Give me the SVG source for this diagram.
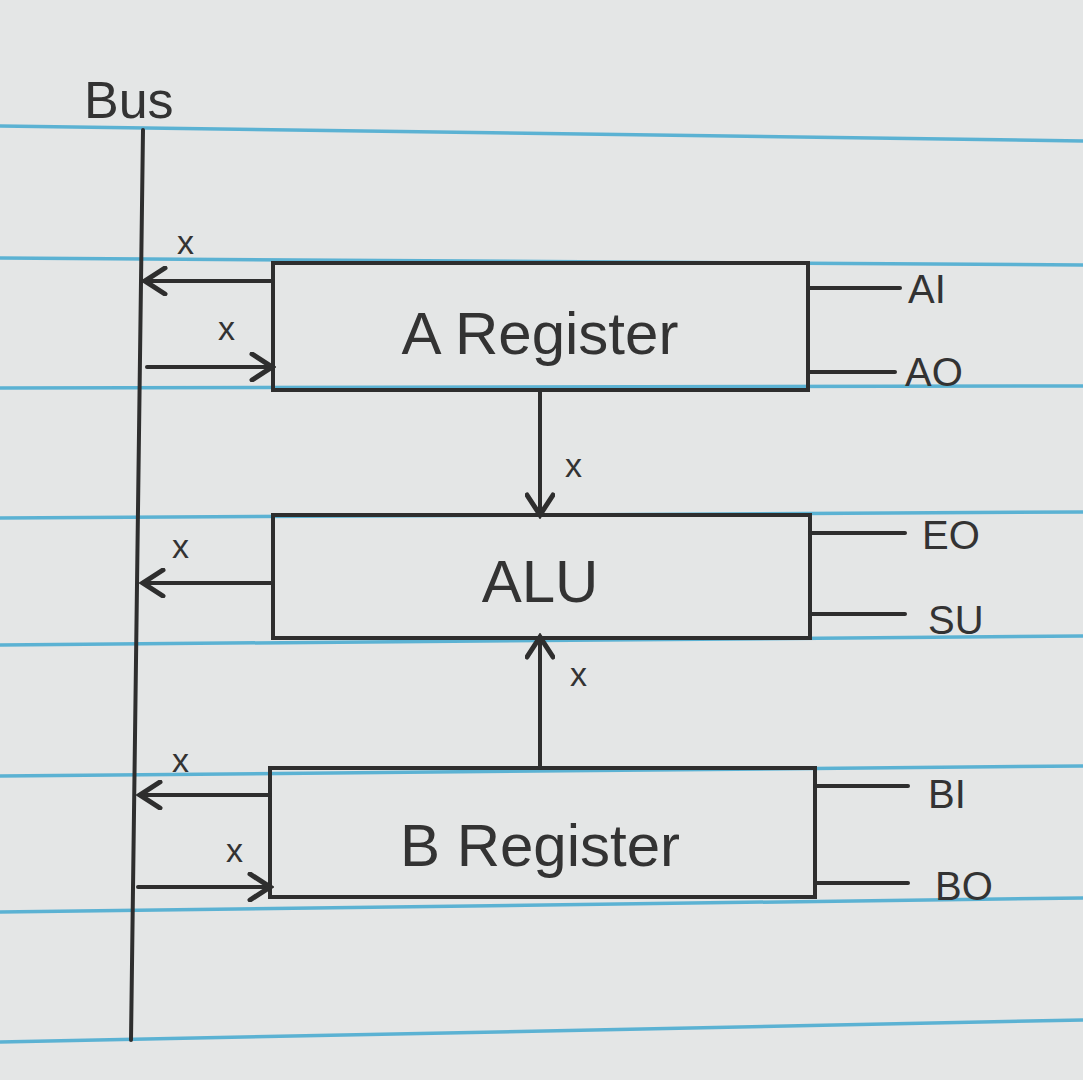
<svg xmlns="http://www.w3.org/2000/svg" width="1083" height="1080" viewBox="0 0 1083 1080">
<style>
.rule{stroke:#3aa6cf;stroke-width:3.5;opacity:0.8}
.ink{stroke:#2e2e2e;stroke-width:4;fill:none;stroke-linecap:round}
.box{stroke:#2e2e2e;stroke-width:4;fill:none}
.lbl{font-family:"Liberation Sans",Arial,sans-serif;fill:#333}
.big{font-size:60px}
.sig{font-size:40px}
.x{font-size:34px}
</style>
<defs>
<marker id="ah" markerWidth="30" markerHeight="30" refX="26" refY="15" orient="auto" markerUnits="userSpaceOnUse">
<path d="M6,2 L26,15 L6,28" fill="none" stroke="#2e2e2e" stroke-width="5" stroke-linecap="round"/>
</marker>
</defs>
<rect width="1083" height="1080" fill="#e4e6e6"/>
<g id="paper-lines">
<line class="rule" x1="0" y1="126" x2="1083" y2="141"/>
<line class="rule" x1="0" y1="258" x2="1083" y2="265"/>
<line class="rule" x1="0" y1="388" x2="1083" y2="386"/>
<line class="rule" x1="0" y1="518" x2="1083" y2="512"/>
<line class="rule" x1="0" y1="645" x2="1083" y2="636"/>
<line class="rule" x1="0" y1="776" x2="1083" y2="766"/>
<line class="rule" x1="0" y1="912" x2="1083" y2="898"/>
<line class="rule" x1="0" y1="1042" x2="1083" y2="1020"/>
</g>
<g id="bus">
<line class="ink" x1="143" y1="130" x2="131" y2="1040"/>
<text class="lbl" x="84" y="118" font-size="52">Bus</text>
</g>
<g id="a-register">
<rect class="box" x="273" y="263" width="535" height="127"/>
<text class="lbl big" x="540" y="354" text-anchor="middle">A Register</text>
<line class="ink" x1="808" y1="288" x2="900" y2="288"/>
<line class="ink" x1="810" y1="372" x2="895" y2="372"/>
<text class="lbl sig" x="908" y="303">AI</text>
<text class="lbl sig" x="905" y="386">AO</text>
</g>
<g id="alu">
<rect class="box" x="273" y="515" width="537" height="123"/>
<text class="lbl big" x="540" y="602" text-anchor="middle">ALU</text>
<line class="ink" x1="810" y1="533" x2="905" y2="533"/>
<line class="ink" x1="810" y1="614" x2="905" y2="614"/>
<text class="lbl sig" x="922" y="549">EO</text>
<text class="lbl sig" x="928" y="634">SU</text>
</g>
<g id="b-register">
<rect class="box" x="270" y="768" width="545" height="129"/>
<text class="lbl big" x="540" y="866" text-anchor="middle">B Register</text>
<line class="ink" x1="815" y1="786" x2="908" y2="786"/>
<line class="ink" x1="815" y1="883" x2="908" y2="883"/>
<text class="lbl sig" x="928" y="808">BI</text>
<text class="lbl sig" x="935" y="900">BO</text>
</g>
<g id="connectors">
<line class="ink" x1="273" y1="281" x2="145" y2="281" marker-end="url(#ah)"/>
<line class="ink" x1="147" y1="367" x2="272" y2="367" marker-end="url(#ah)"/>
<line class="ink" x1="273" y1="583" x2="143" y2="583" marker-end="url(#ah)"/>
<line class="ink" x1="270" y1="795" x2="140" y2="795" marker-end="url(#ah)"/>
<line class="ink" x1="138" y1="887" x2="270" y2="887" marker-end="url(#ah)"/>
<line class="ink" x1="540" y1="392" x2="540" y2="515" marker-end="url(#ah)"/>
<line class="ink" x1="540" y1="768" x2="540" y2="637" marker-end="url(#ah)"/>
<text class="lbl x" x="177" y="254">x</text>
<text class="lbl x" x="218" y="340">x</text>
<text class="lbl x" x="172" y="558">x</text>
<text class="lbl x" x="172" y="772">x</text>
<text class="lbl x" x="226" y="862">x</text>
<text class="lbl x" x="565" y="477">x</text>
<text class="lbl x" x="570" y="686">x</text>
</g>
</svg>
